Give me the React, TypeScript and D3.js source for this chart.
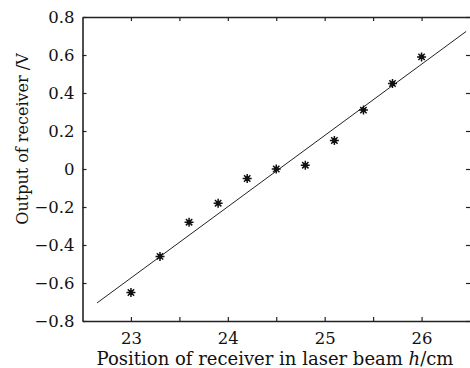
import { useEffect, useRef } from "react";
import * as d3 from "d3";

const positions = [23.0, 23.3, 23.6, 23.9, 24.2, 24.5, 24.8, 25.1, 25.4, 25.7, 26.0];
const outputs = [-0.65, -0.46, -0.28, -0.18, -0.05, 0.0, 0.02, 0.15, 0.31, 0.45, 0.59];

// fitted straight line, end points as drawn
const fitX = [22.65, 26.46];
const fitY = [-0.705, 0.724];

const xTicks = [23, 23.5, 24, 24.5, 25, 25.5, 26];
const xTickLabels = [23, 24, 25, 26];
const yTicks = [-0.8, -0.6, -0.4, -0.2, 0, 0.2, 0.4, 0.6, 0.8];

const W = 470;
const H = 368;
const FONT = "'DejaVu Serif', serif";

// 8-armed star used as marker
const starSymbol = {
  draw(ctx: any, size: number) {
    const r = Math.sqrt(size) / 2;
    for (let k = 0; k < 4; k++) {
      const a = (k * Math.PI) / 4;
      const dx = Math.cos(a) * r;
      const dy = Math.sin(a) * r;
      ctx.moveTo(-dx, -dy);
      ctx.lineTo(dx, dy);
    }
  }
};

export default function App() {
  const svgRef = useRef<SVGSVGElement>(null);

  useEffect(() => {
    if (!svgRef.current) return;
    const svg = d3.select(svgRef.current);
    svg.selectAll("*").remove();

    const margin = { top: 17, right: 0, bottom: 47, left: 82.5 };
    const innerW = W - margin.left - margin.right;
    const innerH = H - margin.top - margin.bottom;

    const x = d3.scaleLinear().domain([22.5, 26.5]).range([0, innerW]);
    const y = d3.scaleLinear().domain([-0.8, 0.8]).range([innerH, 0]);

    const g = svg.append("g").attr("transform", `translate(${margin.left},${margin.top})`);

    const fmtY = (d: number) => (d === 0 ? "0" : d3.format(".1f")(d).replace("-", "\u2212"));

    // bottom axis
    const bottom = g.append("g")
      .attr("transform", `translate(0,${innerH})`)
      .call(d3.axisBottom(x).tickValues(xTicks).tickSizeInner(-4).tickSizeOuter(0)
        .tickFormat((d: any) => (xTickLabels.includes(d) ? String(d) : "")));
    // top axis
    const top = g.append("g")
      .call(d3.axisTop(x).tickValues(xTicks).tickSizeInner(-4).tickSizeOuter(0).tickFormat(() => ""));
    // left axis
    const left = g.append("g")
      .call(d3.axisLeft(y).tickValues(yTicks).tickSizeInner(-4).tickSizeOuter(0).tickFormat((d: any) => fmtY(d)));
    // right side: ticks only, the frame edge is cut off in the original
    const right = g.append("g")
      .attr("transform", `translate(${innerW},0)`)
      .call(d3.axisRight(y).tickValues(yTicks).tickSizeInner(-4).tickSizeOuter(0).tickFormat(() => ""));

    [bottom, top, left, right].forEach(a => {
      a.select(".domain").attr("stroke", "#222").attr("stroke-width", 1.6);
      a.selectAll(".tick line").attr("stroke", "#222").attr("stroke-width", 1.2);
      a.selectAll("text").attr("font-family", FONT).attr("font-size", 16.5).attr("fill", "#111");
    });
    right.select(".domain").attr("stroke", "none");
    bottom.selectAll(".tick text").attr("dy", "1.05em").attr("y", 6);
    left.selectAll(".tick text").attr("x", -8).attr("dy", "0.36em");

    // fit line
    const line = d3.line<number>()
      .x((_, i) => x(fitX[i]))
      .y(d => y(d));
    g.append("path")
      .datum(fitY)
      .attr("d", line)
      .attr("fill", "none")
      .attr("stroke", "#222")
      .attr("stroke-width", 1);

    // markers
    const sym = d3.symbol().type(starSymbol as any).size(81);
    g.selectAll(".pt")
      .data(positions)
      .enter()
      .append("g")
      .attr("class", "pt")
      .attr("transform", (d, i) => `translate(${x(d)},${y(outputs[i])})`)
      .each(function () {
        const s = d3.select(this);
        s.append("path").attr("d", sym()).attr("stroke", "#111").attr("stroke-width", 1.5);
        s.append("circle").attr("r", 2.4).attr("fill", "#111");
      });

    // axis titles
    svg.append("text")
      .attr("x", 275)
      .attr("y", 365)
      .attr("text-anchor", "middle")
      .attr("font-family", FONT)
      .attr("font-size", 18)
      .attr("fill", "#111")
      .call(t => {
        t.append("tspan").text("Position of receiver in laser beam ");
        t.append("tspan").attr("font-style", "italic").text("h");
        t.append("tspan").text("/cm");
      });

    svg.append("text")
      .attr("transform", `translate(28,139) rotate(-90)`)
      .attr("text-anchor", "middle")
      .attr("font-family", FONT)
      .attr("font-size", 16)
      .attr("fill", "#111")
      .text("Output of receiver /V");
  }, []);

  return (
    <div style={{ position: "absolute", left: 0, top: 0, background: "#fff" }}>
      <svg ref={svgRef} width={W} height={H} style={{ display: "block" }} />
    </div>
  );
}
